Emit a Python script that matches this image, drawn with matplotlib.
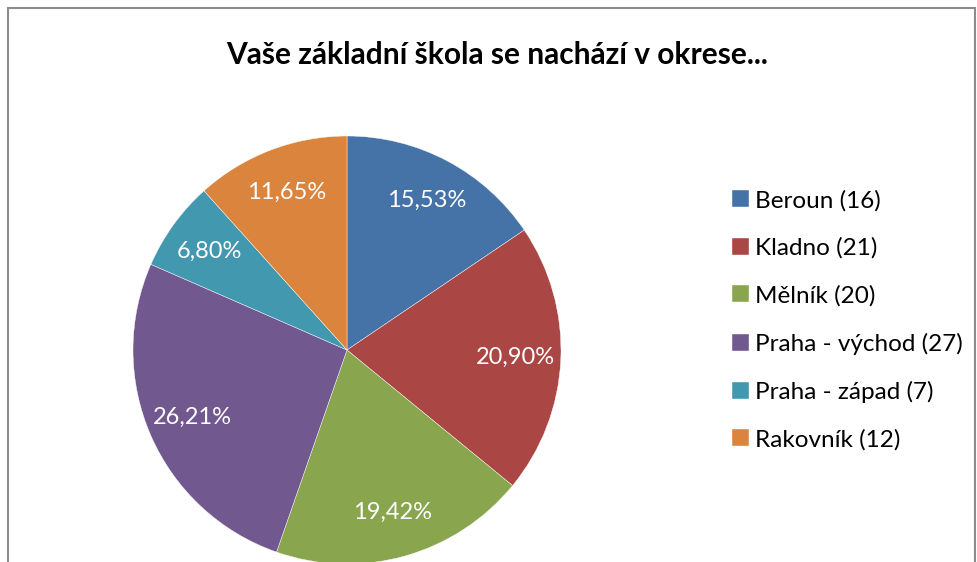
import matplotlib
matplotlib.use("Agg")
import matplotlib.pyplot as plt
from matplotlib.patches import Rectangle

# data
districts = ["Beroun", "Kladno", "Mělník", "Praha - východ", "Praha - západ", "Rakovník"]
counts = [16, 21, 20, 27, 7, 12]
pct_labels = ["15,53%", "20,90%", "19,42%", "26,21%", "6,80%", "11,65%"]
colors = ["#4572A7", "#AA4643", "#89A54E", "#71588F", "#4198AF", "#DB843D"]
title = "Vaše základní škola se nachází v okrese..."

plt.rcParams["font.family"] = ["Lato", "DejaVu Sans"]

W, H = 977, 562
fig = plt.figure(figsize=(W / 100, H / 100), dpi=100)

# chart border
fig.patches.append(Rectangle((8 / W, -0.1), (975 - 8) / W, 1.1 - 8 / H,
                             transform=fig.transFigure, fill=False,
                             edgecolor="#8c8c8c", linewidth=1.5))

# pie axes: centre (347, 350) px, radius 214 px
cx, cy, r = 347, 350, 214
ax = fig.add_axes([(cx - r) / W, (H - cy - r) / H, 2 * r / W, 2 * r / H])
wedges, texts = ax.pie(counts, colors=colors, startangle=90, counterclock=False,
                       labels=pct_labels, labeldistance=0.79,
                       wedgeprops=dict(linewidth=0.3, edgecolor="white"),
                       textprops=dict(color="white", fontsize=17))
for t in texts:
    t.set_horizontalalignment("center")
    t.set_verticalalignment("center")
ax.set_xlim(-1, 1)
ax.set_ylim(-1, 1)
ax.set_aspect("equal")
ax.axis("off")

fig.text(497 / W, 1 - 55 / H, title, ha="center", va="center",
         fontsize=21.5, fontweight="bold")

leg_labels = [f"{d} ({c})" for d, c in zip(districts, counts)]
fig.legend(wedges, leg_labels, loc="center left",
           bbox_to_anchor=(732 / W, 1 - 320 / H), frameon=False,
           fontsize=17.5, borderpad=0, borderaxespad=0,
           handlelength=0.7, handleheight=0.7, handletextpad=0.25,
           labelspacing=1.07)

fig.savefig("out.png", dpi=100)
